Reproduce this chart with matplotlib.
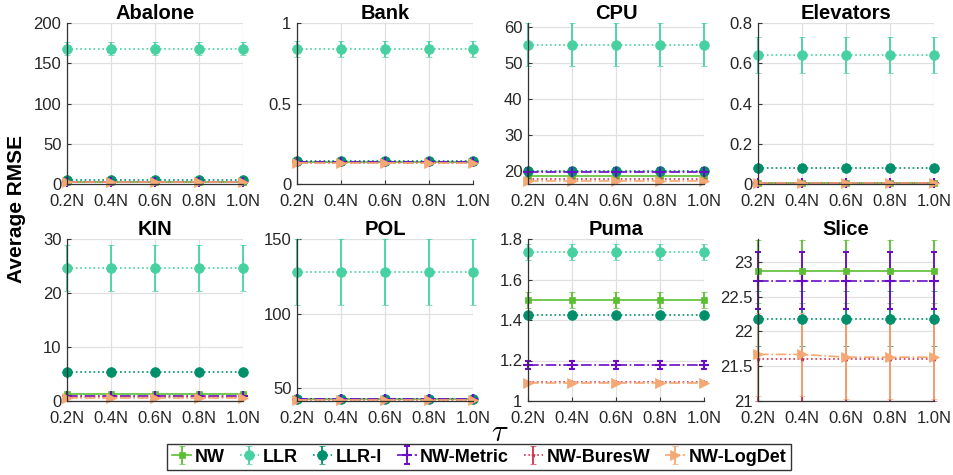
import numpy as np
import matplotlib
matplotlib.use('Agg')
import matplotlib.pyplot as plt
from matplotlib.ticker import FuncFormatter

plt.rcParams['font.family'] = ['Liberation Sans', 'DejaVu Sans']
plt.rcParams['mathtext.fontset'] = 'cm'

# data
datasets = ['Abalone', 'Bank', 'CPU', 'Elevators', 'KIN', 'POL', 'Puma', 'Slice']
tau = [0.2, 0.4, 0.6, 0.8, 1.0]
tau_labels = ['0.2N', '0.4N', '0.6N', '0.8N', '1.0N']

nw_mean = [2.2, 0.135, 18.6, 0.006, 1.25, 42.6, 1.498, 22.866]
nw_err = [0.3, 0.004, 0.4, 0.001, 0.05, 0.3, 0.04, 0.45]
llr_mean = [168, 0.84, 55.0, 0.64, 24.6, 128, 1.736, np.nan]
llr_err = [8, 0.05, 6.0, 0.09, 4.3, 22, 0.039, np.nan]
llri_mean = [4.6, 0.14, 20.2, 0.08, 5.4, 42.8, 1.425, 22.185]
llri_err = [0.4, 0.004, 0.6, 0.003, 0.15, 0.3, 0.012, 0.39]
metric_mean = [2.3, 0.135, 19.9, 0.005, 0.95, 42.9, 1.177, 22.727]
metric_err = [0.3, 0.004, 1.0, 0.001, 0.05, 0.3, 0.02, 0.41]
bures_mean = [2.2, 0.13, 17.9, 0.005, 0.8, 42.5, 1.092, 21.61]
bures_err = [0.3, 0.004, 0.3, 0.001, 0.05, 0.3, 0.005, 0.61]
logdet_mean = [2.2, 0.13, 17.3, 0.005, 0.6, 42.3, 1.087, 21.63]
logdet_err = [0.3, 0.004, 0.3, 0.001, 0.05, 0.3, 0.005, 0.6]
logdet_slice = [21.67, 21.67, 21.63, 21.63, 21.63]

ylims = [(0, 200), (0, 1), (16.5, 61), (0, 0.8), (0, 30), (41.5, 150), (1, 1.8), (21, 23.33)]
yticks = [[0, 50, 100, 150, 200], [0, 0.5, 1], [20, 30, 40, 50, 60], [0, 0.2, 0.4, 0.6, 0.8],
          [0, 10, 20, 30], [50, 100, 150], [1, 1.2, 1.4, 1.6, 1.8], [21, 21.5, 22, 22.5, 23]]

methods = [
    ('NW', nw_mean, nw_err, '-', 's', 5, (0.36, 0.75, 0.20)),
    ('LLR', llr_mean, llr_err, ':', 'o', 7, (0.28, 0.82, 0.63)),
    ('LLR-I', llri_mean, llri_err, ':', 'o', 7, (0.0, 0.56, 0.42)),
    ('NW-Metric', metric_mean, metric_err, '-.', '+', 7, (0.42, 0.05, 0.78)),
    ('NW-BuresW', bures_mean, bures_err, ':', '*', 3, (0.82, 0.20, 0.30)),
    ('NW-LogDet', logdet_mean, logdet_err, '-.', '>', 7.5, (0.96, 0.66, 0.45)),
]

W, H = 954, 475
fig = plt.figure(figsize=(W / 100, H / 100), dpi=100)

col_left = [67, 297, 528, 758]
ax_w = 176
rows = [(23, 184), (239, 401)]

axes = []
for i, name in enumerate(datasets):
    r, c = divmod(i, 4)
    top, bot = rows[r]
    ax = fig.add_axes([col_left[c] / W, 1 - bot / H, ax_w / W, (bot - top) / H])
    axes.append(ax)
    for label, mean, err, ls, mk, ms, col in methods:
        if name == 'Slice' and label == 'NW-LogDet':
            y = logdet_slice
        else:
            y = [mean[i]] * len(tau)
        e = [err[i]] * len(tau)
        h = ax.errorbar(tau, y, yerr=e, fmt=ls, marker=mk, ms=ms, color=col, lw=1.2,
                        elinewidth=1.3, capsize=2.5, capthick=1.0, label=label,
                        mec=col, mfc=col, mew=1.5 if mk == '+' else 0.5)
        for art in h.get_children():
            art.set_clip_on(False)
    ax.set_xlim(0.2, 1.0)
    ax.set_ylim(*ylims[i])
    ax.set_xticks(tau)
    ax.set_xticklabels(tau_labels)
    ax.set_yticks(yticks[i])
    ax.yaxis.set_major_formatter(FuncFormatter(lambda v, p: '%g' % v))
    ax.grid(True, color=(0.88, 0.88, 0.88), lw=0.9)
    ax.set_axisbelow(True)
    for s in ['top', 'right']:
        ax.spines[s].set_visible(False)
    for s in ['left', 'bottom']:
        ax.spines[s].set_color((0.2, 0.2, 0.2))
        ax.spines[s].set_linewidth(0.9)
    ax.tick_params(direction='in', length=3, width=0.8, labelsize=12,
                   colors=(0.2, 0.2, 0.2), labelcolor=(0.15, 0.15, 0.15))
    ax.tick_params(axis='x', pad=7)
    ax.tick_params(axis='y', pad=4)
    ax.set_title(name, fontsize=14.5, fontweight='bold', pad=3)

handles, labels = axes[0].get_legend_handles_labels()
leg = fig.legend(handles, labels, loc='center', bbox_to_anchor=(479 / W, 1 - 457 / H),
                 ncol=6, frameon=True, fancybox=False, edgecolor='black',
                 prop={'weight': 'bold', 'size': 13}, handlelength=1.1,
                 columnspacing=0.8, handletextpad=0.2, borderpad=0.25)
leg.get_frame().set_linewidth(1.0)

fig.text(17 / W, 1 - 209 / H, 'Average RMSE', rotation=90, ha='center', va='center',
         fontsize=15, fontweight='bold')
fig.text(500 / W, 1 - 433 / H, r'$\tau$', ha='center', va='center', fontsize=22)

fig.savefig('out.png', dpi=100)
